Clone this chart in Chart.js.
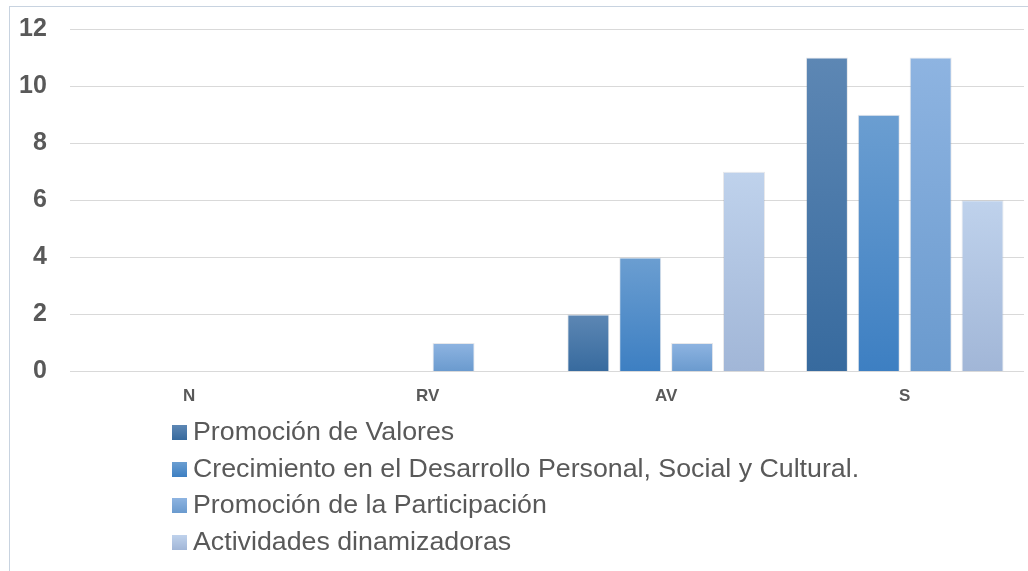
<!DOCTYPE html>
<html>
<head>
<meta charset="utf-8">
<script src="https://cdn.jsdelivr.net/npm/chart.js@4.4.1/dist/chart.umd.min.js"></script>
<style>
  html, body { margin: 0; padding: 0; background: #ffffff; }
  body { width: 1028px; height: 571px; overflow: hidden; position: relative; font-family: "Liberation Sans", Arial, sans-serif; }
  #frame { position: absolute; left: 9px; top: 6px; width: 1040px; height: 600px; border: 1px solid #c8d3e0; box-sizing: border-box; }
  #wrap { position: absolute; left: -4px; top: -9px; width: 1032px; height: 437px; }
  #legend { position: absolute; left: 172px; top: 413px; margin: 0; padding: 0; list-style: none; }
  #legend li { height: 36.5px; line-height: 36.5px; font-size: 25px; color: #595959; white-space: nowrap; }
  #legend .box { display: inline-block; width: 15px; height: 15px; margin-right: 6px; vertical-align: 0px; }
  #legend .txt { display: inline-block; transform: scaleX(1.07); transform-origin: left center; }
</style>
</head>
<body>
<div id="frame"></div>
<div id="wrap"><canvas id="chart"></canvas></div>
<ul id="legend"></ul>
<script>
// Categories on the horizontal axis
const categories = ["N", "RV", "AV", "S"];

// Series names
const seriesNames = [
  "Promoción de Valores",
  "Crecimiento en el Desarrollo Personal, Social y Cultural.",
  "Promoción de la Participación",
  "Actividades dinamizadoras"
];

// Values for each series, per category
const promocionValores = [0, 0, 2, 11];
const crecimientoDesarrollo = [0, 0, 4, 9];
const promocionParticipacion = [0, 1, 1, 11];
const actividadesDinamizadoras = [0, 0, 7, 6];

// Y-axis tick values
const yTicks = [0, 2, 4, 6, 8, 10, 12];

// Top / bottom shades of each series' vertical gradient
const seriesShades = [
  ["#5d87b4", "#376a9e"],
  ["#6b9ed1", "#3d7fc2"],
  ["#8eb4e1", "#6a9ace"],
  ["#bfd2ec", "#a1b6d7"]
];

const seriesValues = [promocionValores, crecimientoDesarrollo, promocionParticipacion, actividadesDinamizadoras];

function barGradient(seriesIndex) {
  return function (ctx) {
    const chart = ctx.chart;
    const area = chart.chartArea;
    const shades = seriesShades[seriesIndex];
    if (!area || ctx.type !== "data") return shades[0];
    const y = chart.scales.y;
    const top = y.getPixelForValue(ctx.raw);
    const bottom = y.getPixelForValue(0);
    if (!(bottom - top > 0.5)) return shades[0];
    const g = chart.ctx.createLinearGradient(0, top, 0, bottom);
    g.addColorStop(0, shades[0]);
    g.addColorStop(1, shades[1]);
    return g;
  };
}

const datasets = seriesNames.map((name, i) => ({
  label: name,
  data: seriesValues[i],
  backgroundColor: barGradient(i),
  borderColor: "rgba(120,130,145,0.18)",
  borderWidth: 1,
  borderSkipped: "bottom",
  categoryPercentage: 0.87,
  barPercentage: 0.81
}));

const chart = new Chart(document.getElementById("chart"), {
  type: "bar",
  data: { labels: categories, datasets: datasets },
  options: {
    responsive: true,
    maintainAspectRatio: false,
    animation: false,
    layout: { padding: { left: 0, right: 4, top: 0, bottom: 6 } },
    plugins: {
      legend: { display: false },
      tooltip: { enabled: false }
    },
    scales: {
      x: {
        grid: { display: false, drawTicks: false },
        border: { display: false },
        ticks: {
          color: "#595959",
          font: { family: "'Liberation Sans', Arial, sans-serif", size: 17, weight: "bold" },
          padding: 15
        }
      },
      y: {
        min: 0,
        max: 12,
        afterBuildTicks: (axis) => { axis.ticks = yTicks.map(v => ({ value: v })); },
        grid: { color: "#d9d9d9", lineWidth: 1, drawTicks: false },
        border: { display: false },
        ticks: {
          color: "#595959",
          font: { family: "'Liberation Sans', Arial, sans-serif", size: 25, weight: "bold" },
          padding: 23
        }
      }
    }
  }
});

// Legend listing one series per line
const legendEl = document.getElementById("legend");
seriesNames.forEach((name, i) => {
  const li = document.createElement("li");
  const box = document.createElement("span");
  box.className = "box";
  box.style.background = "linear-gradient(" + seriesShades[i][0] + ", " + seriesShades[i][1] + ")";
  const txt = document.createElement("span");
  txt.className = "txt";
  txt.textContent = name;
  li.appendChild(box);
  li.appendChild(txt);
  legendEl.appendChild(li);
});
</script>
</body>
</html>
